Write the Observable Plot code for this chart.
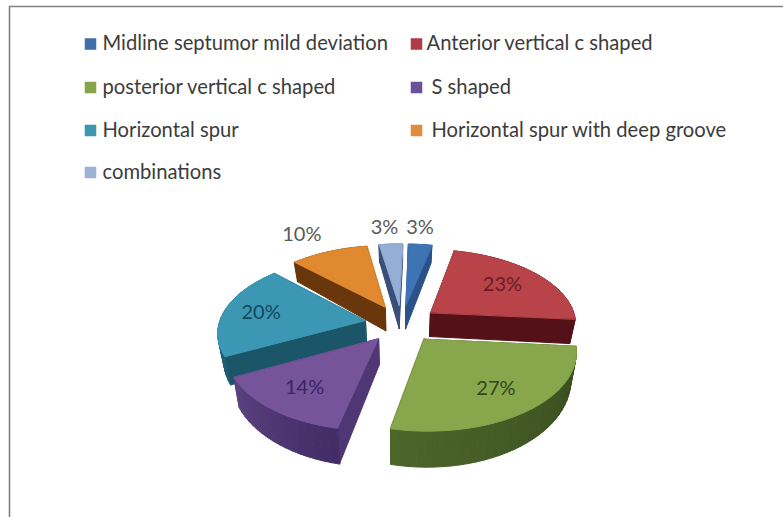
<!DOCTYPE html>
<html>
<head>
<meta charset="utf-8">
<script src="https://cdn.jsdelivr.net/npm/d3@7"></script>
<script src="https://cdn.jsdelivr.net/npm/@observablehq/plot@0.6"></script>
<style>
  html, body { margin: 0; padding: 0; background: #fff; }
  svg { display: block; }
</style>
</head>
<body>
<div id="chart"></div>
<script>
// Septal deviation types and their share of cases (percent)
const categories = [
  "Midline septumor mild deviation",
  "Anterior vertical c shaped",
  "posterior vertical c shaped",
  "S shaped",
  "Horizontal spur",
  "Horizontal spur with deep groove",
  "combinations"
];
const shares = [3, 23, 27, 14, 20, 10, 3];

// Slice palette: top face, cut face, outer wall (two ends of a shading ramp)
const topColors = ["#3f74b4", "#b8444a", "#88a64c", "#75549a", "#3b97b4", "#e0892f", "#94aed6"];
const cutColors = ["#2b5288", "#541218", "#3c5024", "#4f3675", "#1b5568", "#6a370c", "#3a4f78"];
const wallStart = ["#2b5288", "#541218", "#364a1d", "#412c66", "#1e5c70", "#6a370c", "#3a4f78"];
const wallEnd   = ["#2b5288", "#541218", "#4c662a", "#5c4280", "#2a7088", "#6a370c", "#3a4f78"];
const swatchColors = ["#3f6ea8", "#b03a48", "#87a34a", "#69529a", "#3d96b0", "#e08c3c", "#9fb2d6"];
const labelColors = ["#5a5a5a", "#6c1c26", "#2e4a18", "#3a2560", "#14485e", "#5a5a5a", "#5a5a5a"];

// Placement of each percent label: reach as a fraction of the pie radius,
// and a swing in degrees away from the slice's middle angle
const labelReach = [1.32, 0.68, 0.72, 0.72, 0.74, 1.39, 1.32];
const labelSwing = [-1.5, -1, 0, 0, 0, -3, -1.5];

// Legend layout: swatch column, row and text start for every entry
const legendColumns = [90, 416];
const legendRows = [43.5, 87, 130, 172];
const legendTextX = [102, 426, 102, 431, 102, 431, 102];

// Pie camera: exploded slices on a tilted plane seen with perspective
const pie = {cx: 401, cy: 323, radius: 146, explode: 37, tilt: 0.51, perspective: 0.00095, depth: 25, baseShrink: 0.968, turn: 1.5};

function project(X, Y) {
  const w = 1 / (1 - pie.perspective * Y);
  return {x: pie.cx + X * w, y: pie.cy + pie.tilt * Y * w, w, Y};
}
function base(p) {
  return {
    x: pie.cx + (p.x - pie.cx) * pie.baseShrink,
    y: p.y + pie.depth * p.w * p.w,
    Y: p.Y
  };
}

// Turn the shares into angular spans, clockwise from just past twelve o'clock
let running = 0;
const slices = shares.map((v, i) => {
  const turn = pie.turn * Math.PI / 180;
  const a0 = turn + running / 100 * 2 * Math.PI;
  running += v;
  const a1 = turn + running / 100 * 2 * Math.PI;
  const mid = (a0 + a1) / 2;
  const ox = pie.explode * Math.sin(mid);
  const oy = -pie.explode * Math.cos(mid);
  const at = (a, r = pie.radius) => project(ox + r * Math.sin(a), oy - r * Math.cos(a));
  return {i, v, a0, a1, mid, ox, oy, at};
});

// Faces are emitted far to near so nearer faces cover farther ones
const faces = [];
let faceId = 0;
function addFace(points, color) {
  const id = faceId++;
  for (const p of points) faces.push({x: p.x, y: p.y, face: id, color});
}
const order = [...slices].sort((s, t) => s.oy - t.oy);
for (const s of order) {
  const apex = project(s.ox, s.oy);
  const steps = Math.max(4, Math.ceil((s.a1 - s.a0) / (3 * Math.PI / 180)));
  const arc = d3.range(steps + 1).map(k => s.at(s.a0 + (s.a1 - s.a0) * k / steps));
  const walls = [];
  for (const edge of [arc[0], arc[steps]]) {
    walls.push({
      pts: [apex, edge, base(edge), base(apex)],
      color: cutColors[s.i],
      Y: (apex.Y + edge.Y) / 2
    });
  }
  const ramp = d3.interpolateRgb(wallStart[s.i], wallEnd[s.i]);
  for (let k = 0; k < steps; k++) {
    walls.push({
      pts: [arc[k], arc[k + 1], base(arc[k + 1]), base(arc[k])],
      color: ramp((k + 0.5) / steps),
      Y: (arc[k].Y + arc[k + 1].Y) / 2 + 60
    });
  }
  walls.sort((a, b) => a.Y - b.Y).forEach(w => addFace(w.pts, w.color));
  addFace([apex, ...arc], topColors[s.i]);
}

// Percent labels placed from each slice's middle angle
const pieLabels = slices.map(s => {
  const p = s.at(s.mid + labelSwing[s.i] * Math.PI / 180, pie.radius * labelReach[s.i]);
  return {x: p.x, y: p.y, text: `${s.v}%`, color: labelColors[s.i]};
});

// Legend runs two across, in reading order
const legend = categories.map((name, i) => ({
  name,
  x: legendColumns[i % 2],
  y: legendRows[Math.floor(i / 2)],
  tx: legendTextX[i],
  color: swatchColors[i]
}));

const font = "Lato, 'Open Sans', sans-serif";
const chart = Plot.plot({
  width: 783,
  height: 517,
  margin: 0,
  style: {background: "#ffffff", fontFamily: font},
  x: {domain: [0, 783], range: [0, 783], axis: null},
  y: {domain: [0, 517], range: [0, 517], axis: null},
  color: {type: "identity"},
  marks: [
    Plot.ruleY([6], {x1: 9, x2: 783, stroke: "#808080", strokeWidth: 1.6}),
    Plot.ruleX([9], {y1: 6, y2: 517, stroke: "#808080", strokeWidth: 1.6}),
    Plot.line(faces, {
      x: "x", y: "y", z: "face",
      fill: "color", stroke: "color", strokeWidth: 1,
      curve: "linear-closed"
    }),
    Plot.text(pieLabels, {
      x: "x", y: "y", text: "text", fill: "color",
      fontSize: 20, fontFamily: font
    }),
    Plot.dot(legend, {
      x: "x", y: "y", symbol: "square", r: 6.5,
      fill: "color", stroke: "none"
    }),
    Plot.text(legend, {
      x: "tx", y: "y", text: "name", textAnchor: "start",
      fill: "#3c3c3c", fontSize: 20.2, fontFamily: font
    })
  ]
});
document.getElementById("chart").append(chart);
</script>
</body>
</html>
